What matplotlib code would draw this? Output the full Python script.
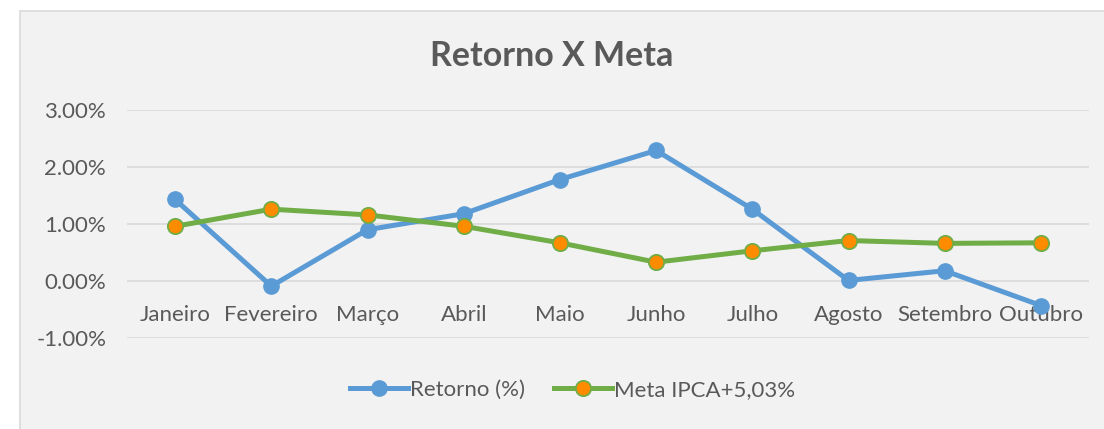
import matplotlib
matplotlib.use('Agg')
import matplotlib.pyplot as plt
from matplotlib.patches import Rectangle
from matplotlib.ticker import FuncFormatter

meses = ['Janeiro', 'Fevereiro', 'Março', 'Abril', 'Maio', 'Junho',
         'Julho', 'Agosto', 'Setembro', 'Outubro']
retorno = [1.43, -0.09, 0.90, 1.18, 1.78, 2.29, 1.26, 0.01, 0.18, -0.43]
meta = [0.96, 1.26, 1.16, 0.96, 0.67, 0.33, 0.53, 0.71, 0.66, 0.67]
yticks = [-1, 0, 1, 2, 3]

plt.rcParams['font.family'] = ['Lato', 'DejaVu Sans']
txt = '#595959'

fig = plt.figure(figsize=(11.04, 4.29), dpi=100)
fig.patch.set_facecolor('white')
# chart area box
fig.patches.append(Rectangle((20 / 1104, -0.01), 1.0, (429 - 11) / 429 + 0.01,
                             transform=fig.transFigure, facecolor='#f2f2f2',
                             edgecolor='#d9d9d9', linewidth=1.2, zorder=-5))

ax = fig.add_axes([127 / 1104, 1 - 338 / 429, (1089 - 127) / 1104, (338 - 110) / 429])
ax.set_facecolor('none')
ax.set_zorder(2)
x = list(range(len(meses)))

ax.plot(x, retorno, '-o', color='#5b9bd5', lw=3.6, ms=11,
        markerfacecolor='#5b9bd5', markeredgecolor='#5b9bd5', label='Retorno (%)', zorder=3)
ax.plot(x, meta, '-o', color='#70ad47', lw=3.6, ms=11,
        markerfacecolor='#ff8c00', markeredgecolor='#70ad47', markeredgewidth=1.3,
        label='Meta IPCA+5,03%', zorder=4)

ax.set_xlim(-0.5, 9.5)
ax.set_ylim(-1, 3)
ax.set_yticks(yticks)
ax.yaxis.set_major_formatter(FuncFormatter(lambda v, p: '%.2f%%' % v))
ax.grid(axis='y', color='#d9d9d9', lw=1.2)
ax.set_axisbelow(True)
for s in ['top', 'right', 'left']:
    ax.spines[s].set_visible(False)
ax.spines['bottom'].set_position(('data', 0))
ax.spines['bottom'].set_visible(False)
ax.set_xticks(x)
ax.set_xticklabels(meses)
ax.tick_params(axis='x', length=0, pad=17, labelsize=16, labelcolor=txt)
ax.tick_params(axis='y', length=0, pad=15, labelsize=16, labelcolor=txt)

fig.text(552 / 1104, 1 - 56 / 429, 'Retorno X Meta', ha='center', va='center',
         fontsize=24.5, fontweight='bold', color=txt)

fig.legend(loc='center', bbox_to_anchor=(573 / 1104, 1 - 390 / 429), ncol=2,
           frameon=False, fontsize=16, labelcolor=txt, handlelength=2.6,
           handletextpad=0.1, columnspacing=1.3)

fig.savefig('out.png', dpi=100)
